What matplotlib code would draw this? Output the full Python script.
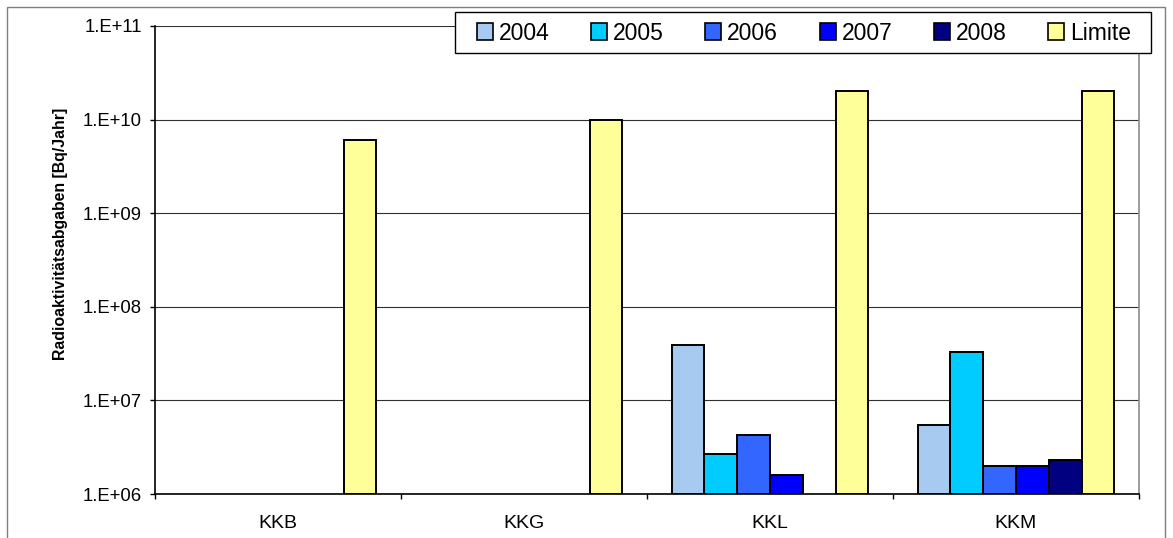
import matplotlib
matplotlib.use("Agg")
import matplotlib.pyplot as plt
from matplotlib.patches import Rectangle, Patch
from matplotlib.ticker import FixedLocator, FuncFormatter, NullFormatter
import numpy as np

plt.rcParams['font.family'] = ['Liberation Sans', 'DejaVu Sans']

categories = ["KKB", "KKG", "KKL", "KKM"]
series_names = ["2004", "2005", "2006", "2007", "2008", "Limite"]
v2004 = [None, None, 3.9e7, 5.4e6]
v2005 = [None, None, 2.7e6, 3.3e7]
v2006 = [None, None, 4.3e6, 2.0e6]
v2007 = [None, None, 1.6e6, 2.0e6]
v2008 = [None, None, None, 2.3e6]
limite = [6.0e9, 1.0e10, 2.0e10, 2.0e10]
series_values = [v2004, v2005, v2006, v2007, v2008, limite]
colors = ["#A6CAF0", "#00CCFF", "#3366FF", "#0000FF", "#000080", "#FFFF99"]
ytick_values = [1e6, 1e7, 1e8, 1e9, 1e10, 1e11]

W, H = 1173, 538
fig = plt.figure(figsize=(W / 100, H / 100), dpi=100)
fig.patch.set_facecolor("white")

ax = fig.add_axes([155 / W, (H - 494) / H, (1139 - 155) / W, (494 - 26) / H])
ax.set_yscale("log")
ax.set_ylim(1e6, 1e11)
ax.set_xlim(-0.5, len(categories) - 0.5)

bw = 1 / 7.5
base = 1e6
x = np.arange(len(categories))
for i, (vals, col) in enumerate(zip(series_values, colors)):
    for xi, v in zip(x, vals):
        if v is None:
            continue
        ax.bar(xi - 2.5 * bw + i * bw, v - base, bottom=base, width=bw,
               color=col, edgecolor="black", linewidth=1.4, zorder=3)

ax.yaxis.set_major_locator(FixedLocator(ytick_values))
ax.yaxis.set_minor_locator(FixedLocator([]))
ax.yaxis.set_major_formatter(FuncFormatter(lambda v, p: "1.E+%02d" % int(round(np.log10(v)))))
ax.tick_params(axis="y", which="major", length=3.5, width=1, direction="out",
               labelsize=13.3, pad=6, color="black")
ax.grid(axis="y", which="major", color="#303030", linewidth=0.8, zorder=0)

ax.set_xticks(np.arange(len(categories) + 1) - 0.5)
ax.xaxis.set_major_formatter(NullFormatter())
ax.set_xticks(x, minor=True)
ax.set_xticklabels(categories, minor=True)
ax.tick_params(axis="x", which="major", length=3.5, width=1, direction="out", color="black")
ax.tick_params(axis="x", which="minor", length=0, labelsize=14, pad=15)

for s in ["left", "bottom"]:
    ax.spines[s].set_color("black")
    ax.spines[s].set_linewidth(1.2)
ax.spines["top"].set_visible(False)
ax.spines["right"].set_color("#8c8c8c")
ax.spines["right"].set_linewidth(1.2)

fig.text(61 / W, (H - 234) / H, "Radioaktivitätsabgaben [Bq/Jahr]", rotation=90,
         ha="center", va="center", fontsize=11.4, fontweight="bold")

# legend frame
fig.patches.append(Rectangle((455 / W, (H - 53) / H), (1151 - 455) / W, 41 / H,
                             transform=fig.transFigure, facecolor="white",
                             edgecolor="black", linewidth=1.0, zorder=4))
handles = [Patch(facecolor=c, edgecolor="black", linewidth=1.2) for c in colors]
leg = fig.legend(handles, series_names, loc="center", ncol=6,
                 bbox_to_anchor=(804 / W, (H - 33) / H), frameon=False,
                 borderpad=0, handlelength=0.7, handleheight=0.7,
                 handletextpad=0.25, columnspacing=1.82, fontsize=16.5)
leg.set_zorder(5)

# outer border
fig.patches.append(Rectangle((7 / W, -0.05), (1165 - 7) / W, (H - 7) / H + 0.05,
                             transform=fig.transFigure, facecolor="none",
                             edgecolor="#7f7f7f", linewidth=1.0, zorder=6))

fig.savefig("out.png", dpi=100)
